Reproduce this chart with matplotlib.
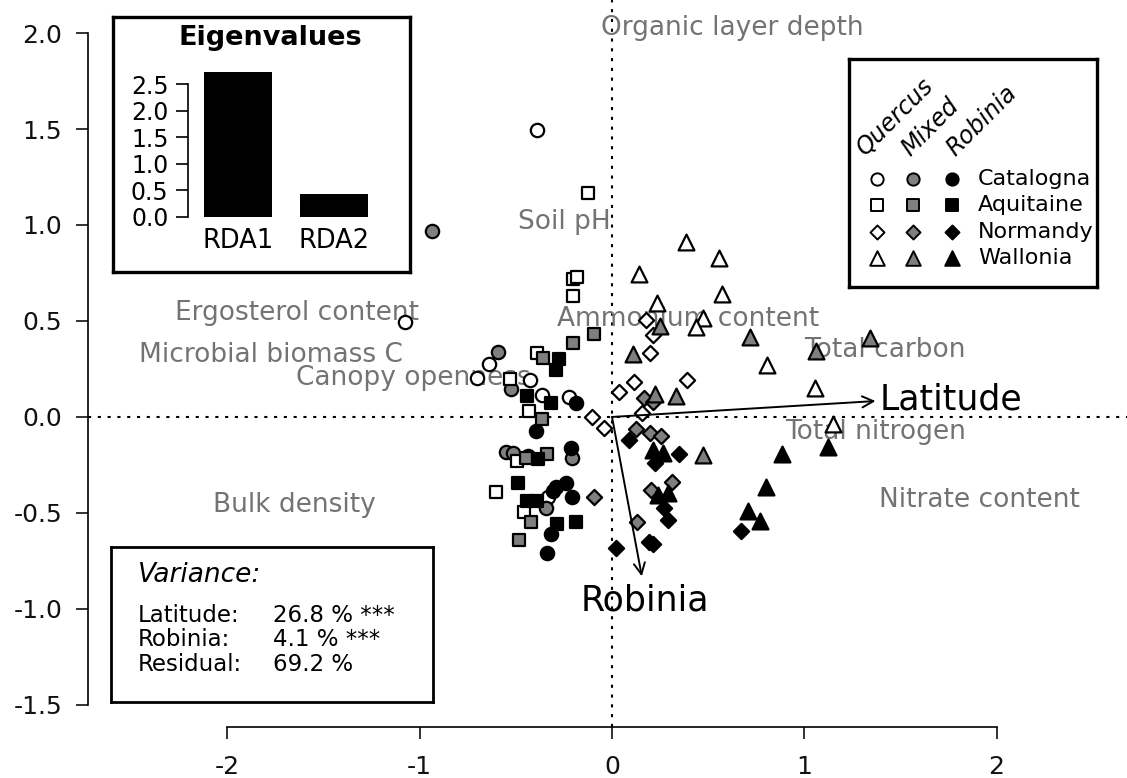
import matplotlib
matplotlib.use('Agg')
import matplotlib.pyplot as plt

plt.rcParams['font.family'] = 'DejaVu Sans'
plt.rcParams['axes.unicode_minus'] = False

# site scores on RDA1 / RDA2, per region (marker shape) and stand type (fill)
cat_quercus_x = [-0.39, -1.077, -0.64, -0.70, -0.426, -0.364, -0.224, -0.333]
cat_quercus_y = [1.495, 0.495, 0.276, 0.203, 0.193, 0.115, 0.104, -0.417]
cat_mixed_x = [-0.936, -0.593, -0.525, -0.551, -0.515, -0.437, -0.208, -0.343]
cat_mixed_y = [0.969, 0.339, 0.146, -0.182, -0.188, -0.203, -0.214, -0.474]
cat_robinia_x = [-0.187, -0.395, -0.213, -0.239, -0.291, -0.307, -0.208, -0.317, -0.338]
cat_robinia_y = [0.073, -0.073, -0.161, -0.344, -0.365, -0.385, -0.417, -0.609, -0.708]

aqu_quercus_x = [-0.125, -0.203, -0.182, -0.203, -0.39, -0.53, -0.432, -0.494, -0.603, -0.458]
aqu_quercus_y = [1.167, 0.719, 0.729, 0.630, 0.333, 0.198, 0.031, -0.229, -0.391, -0.495]
aqu_mixed_x = [-0.094, -0.203, -0.359, -0.364, -0.447, -0.338, -0.421, -0.484]
aqu_mixed_y = [0.432, 0.385, 0.307, -0.010, -0.214, -0.193, -0.547, -0.641]
aqu_robinia_x = [-0.276, -0.291, -0.442, -0.317, -0.385, -0.489, -0.442, -0.39, -0.286, -0.187]
aqu_robinia_y = [0.302, 0.245, 0.109, 0.073, -0.219, -0.344, -0.438, -0.438, -0.557, -0.547]

nor_quercus_x = [-0.104, -0.042, 0.156, 0.177, 0.213, 0.198, 0.39, 0.114, 0.036]
nor_quercus_y = [0.0, -0.057, 0.021, 0.505, 0.427, 0.333, 0.193, 0.182, 0.130]
nor_mixed_x = [-0.094, 0.166, 0.213, 0.125, 0.198, 0.255, 0.203, 0.312, 0.130]
nor_mixed_y = [-0.417, 0.099, 0.078, -0.063, -0.083, -0.099, -0.380, -0.339, -0.547]
nor_robinia_x = [0.021, 0.088, 0.224, 0.348, 0.270, 0.291, 0.192, 0.213, 0.671]
nor_robinia_y = [-0.682, -0.120, -0.240, -0.193, -0.474, -0.536, -0.651, -0.661, -0.594]

wal_quercus_x = [0.385, 0.556, 0.140, 0.572, 0.234, 0.473, 0.437, 0.806, 1.056, 1.149]
wal_quercus_y = [0.911, 0.828, 0.745, 0.641, 0.594, 0.516, 0.469, 0.271, 0.151, -0.036]
wal_mixed_x = [0.250, 0.718, 1.342, 1.061, 0.109, 0.224, 0.333, 0.473]
wal_mixed_y = [0.474, 0.417, 0.411, 0.344, 0.328, 0.120, 0.109, -0.198]
wal_robinia_x = [0.213, 0.265, 0.239, 0.291, 0.884, 1.123, 0.801, 0.707, 0.770]
wal_robinia_y = [-0.172, -0.188, -0.406, -0.396, -0.193, -0.156, -0.365, -0.490, -0.542]

regions = ['Catalogna', 'Aquitaine', 'Normandy', 'Wallonia']
stands = ['Quercus', 'Mixed', 'Robinia']

# constraining variables (arrows)
arrow_names = ['Latitude', 'Robinia']
arrow_x = [1.37, 0.155]
arrow_y = [0.083, -0.83]

# passive soil variables (labels only)
env_names = ['Organic layer depth', 'Soil pH', 'Ergosterol content', 'Microbial biomass C',
             'Canopy openness', 'Ammonium content', 'Total carbon', 'Total nitrogen',
             'Nitrate content', 'Bulk density']
env_x = [0.624, -0.25, -1.638, -1.773, -1.035, 0.395, 1.42, 1.37, 1.91, -1.65]
env_y = [2.026, 1.016, 0.542, 0.323, 0.203, 0.51, 0.35, -0.078, -0.43, -0.46]

eig_names = ['RDA1', 'RDA2']
eig_values = [2.72, 0.43]

var_names = ['Latitude:', 'Robinia:', 'Residual:']
var_values = ['26.8 % ***', '4.1 % ***', '69.2 %']

site_x = [[cat_quercus_x, cat_mixed_x, cat_robinia_x],
          [aqu_quercus_x, aqu_mixed_x, aqu_robinia_x],
          [nor_quercus_x, nor_mixed_x, nor_robinia_x],
          [wal_quercus_x, wal_mixed_x, wal_robinia_x]]
site_y = [[cat_quercus_y, cat_mixed_y, cat_robinia_y],
          [aqu_quercus_y, aqu_mixed_y, aqu_robinia_y],
          [nor_quercus_y, nor_mixed_y, nor_robinia_y],
          [wal_quercus_y, wal_mixed_y, wal_robinia_y]]

markers = ['o', 's', 'D', '^']
msizes = [92, 76, 60, 130]
fills = ['white', '#7f7f7f', 'black']
grey_txt = '#737373'

W, H = 1127, 778
fig = plt.figure(figsize=(W / 100, H / 100), dpi=100)


def px_axes(x0, y0, x1, y1):
    # axes from pixel box (top-left origin)
    return fig.add_axes([x0 / W, 1 - y1 / H, (x1 - x0) / W, (y1 - y0) / H])


ax = px_axes(88, 0, 1127, 727)
ax.set_xlim(-2.725, 2.678)
ax.set_ylim(-1.615, 2.172)
for s in ['top', 'right']:
    ax.spines[s].set_visible(False)
ax.spines['left'].set_bounds(-1.5, 2.0)
ax.spines['bottom'].set_bounds(-2, 2)
for s in ['left', 'bottom']:
    ax.spines[s].set_linewidth(1.2)
ax.set_xticks([-2, -1, 0, 1, 2])
ax.set_xticklabels(['-2', '-1', '0', '1', '2'])
yt = [-1.5, -1.0, -0.5, 0.0, 0.5, 1.0, 1.5, 2.0]
ax.set_yticks(yt)
ax.set_yticklabels(['%.1f' % v for v in yt])
ax.tick_params(axis='both', length=8.6, width=1.2, labelsize=18, colors='#111111')
ax.tick_params(axis='y', pad=10)
ax.tick_params(axis='x', pad=11.5)

ax.axhline(0, color='black', lw=1.5, ls=(0, (1.5, 3.2)), zorder=1)
ax.axvline(0, color='black', lw=1.5, ls=(0, (1.5, 3.2)), zorder=1)

for name, x, y in zip(env_names, env_x, env_y):
    ax.text(x, y, name, color=grey_txt, fontsize=19, ha='center', va='center', zorder=2)

for i in range(len(regions)):
    for j in range(len(stands)):
        ax.scatter(site_x[i][j], site_y[i][j], marker=markers[i], s=msizes[i],
                   facecolor=fills[j], edgecolor='black', linewidths=1.6, zorder=4)

for name, x, y in zip(arrow_names, arrow_x, arrow_y):
    ax.annotate('', xy=(x, y), xytext=(0, 0), zorder=5,
                arrowprops=dict(arrowstyle='->', lw=1.4, color='black',
                                mutation_scale=20, shrinkA=0, shrinkB=0))
ax.annotate(arrow_names[0], (arrow_x[0], arrow_y[0]), xytext=(3, 1), textcoords='offset points',
            fontsize=25, ha='left', va='center')
ax.annotate(arrow_names[1], (arrow_x[1], arrow_y[1]), xytext=(2, -5), textcoords='offset points',
            fontsize=25, ha='center', va='top')

# eigenvalue inset
box = px_axes(113, 17, 410, 272)
box.set_xticks([])
box.set_yticks([])
for s in box.spines.values():
    s.set_linewidth(2.4)
box.text(0.529, 0.918, 'Eigenvalues', transform=box.transAxes, fontsize=19.5,
         fontweight='bold', ha='center', va='center')

bar_ax = px_axes(188, 70.7, 400, 217)
bar_ax.patch.set_alpha(0)
bar_ax.bar(range(len(eig_values)), eig_values, width=0.705, color='black')
bar_ax.set_xlim(-0.518, 1.679)
bar_ax.set_ylim(0, 2.75)
for s in ['top', 'right', 'bottom']:
    bar_ax.spines[s].set_visible(False)
bar_ax.spines['left'].set_bounds(0, 2.5)
bar_ax.spines['left'].set_linewidth(1.2)
bar_ax.set_yticks([0, 0.5, 1.0, 1.5, 2.0, 2.5])
bar_ax.set_yticklabels(['0.0', '0.5', '1.0', '1.5', '2.0', '2.5'])
bar_ax.tick_params(axis='y', length=9, width=1.2, labelsize=17, pad=5)
bar_ax.set_xticks(range(len(eig_names)))
bar_ax.set_xticklabels(eig_names)
bar_ax.tick_params(axis='x', length=0, labelsize=18.5, pad=8)

# legend
leg = px_axes(849, 59, 1097, 287)
leg.set_xlim(0, 1)
leg.set_ylim(0, 1)
leg.set_xticks([])
leg.set_yticks([])
for s in leg.spines.values():
    s.set_linewidth(2.4)
col_x = [0.113, 0.258, 0.415]
head_x = [0.065, 0.246, 0.427]
row_y = [0.474, 0.36, 0.241, 0.127]
for j, st in enumerate(stands):
    leg.text(head_x[j], 0.57, st, rotation=45, rotation_mode='anchor', fontsize=17,
             style='italic', ha='left', va='baseline')
for i, reg in enumerate(regions):
    for j in range(len(stands)):
        leg.scatter(col_x[j], row_y[i], marker=markers[i], s=msizes[i] * 0.85,
                    facecolor=fills[j], edgecolor='black', linewidths=1.4)
    leg.text(0.52, row_y[i], reg, fontsize=16, ha='left', va='center')

# variance partitioning
var = px_axes(111, 547, 433, 702)
var.set_xticks([])
var.set_yticks([])
for s in var.spines.values():
    s.set_linewidth(2.0)
var.text(0.084, 0.82, 'Variance:', transform=var.transAxes, fontsize=19, style='italic',
         ha='left', va='center')
for k, (n, v) in enumerate(zip(var_names, var_values)):
    yy = 0.561 - k * 0.161
    var.text(0.084, yy, n, transform=var.transAxes, fontsize=16.5, ha='left', va='center')
    var.text(0.503, yy, v, transform=var.transAxes, fontsize=16.5, ha='left', va='center')

fig.savefig('out.png', dpi=100)
